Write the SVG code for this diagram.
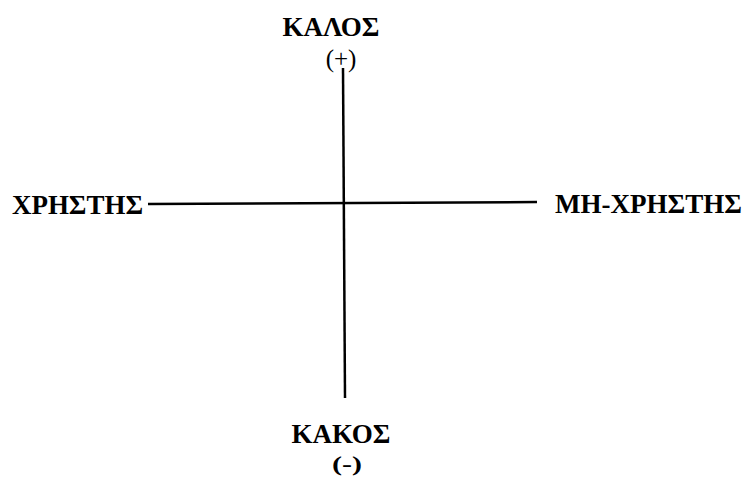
<svg xmlns="http://www.w3.org/2000/svg" width="745" height="480" viewBox="0 0 745 480">
<style>
.lbl{font-family:"Liberation Serif","Times New Roman",serif;font-weight:bold;font-size:27px;fill:#000}
.sgn{font-family:"Liberation Serif","Times New Roman",serif;font-size:25px;fill:#000}
.ax{stroke:#000;stroke-width:2.5;fill:none}
</style>
<rect width="745" height="480" fill="#fff"/>
<g id="connectors">
<line class="ax" x1="148" y1="204" x2="537" y2="202"/>
<line class="ax" x1="343" y1="68" x2="345" y2="398"/>
</g>
<g id="top"><text class="lbl" x="331" y="36" text-anchor="middle">ΚΑΛΟΣ</text><text class="sgn" x="341" y="67" text-anchor="middle">(+)</text></g>
<g id="left"><text class="lbl" x="12" y="214" textLength="131" lengthAdjust="spacingAndGlyphs">ΧΡΗΣΤΗΣ</text></g>
<g id="right"><text class="lbl" x="555" y="213" textLength="187" lengthAdjust="spacingAndGlyphs">ΜΗ-ΧΡΗΣΤΗΣ</text></g>
<g id="bottom"><text class="lbl" x="341" y="443" text-anchor="middle">ΚΑΚΟΣ</text><text class="lbl" x="347" y="471" text-anchor="middle" style="font-size:22px" textLength="30" lengthAdjust="spacingAndGlyphs">(-)</text></g>
</svg>
